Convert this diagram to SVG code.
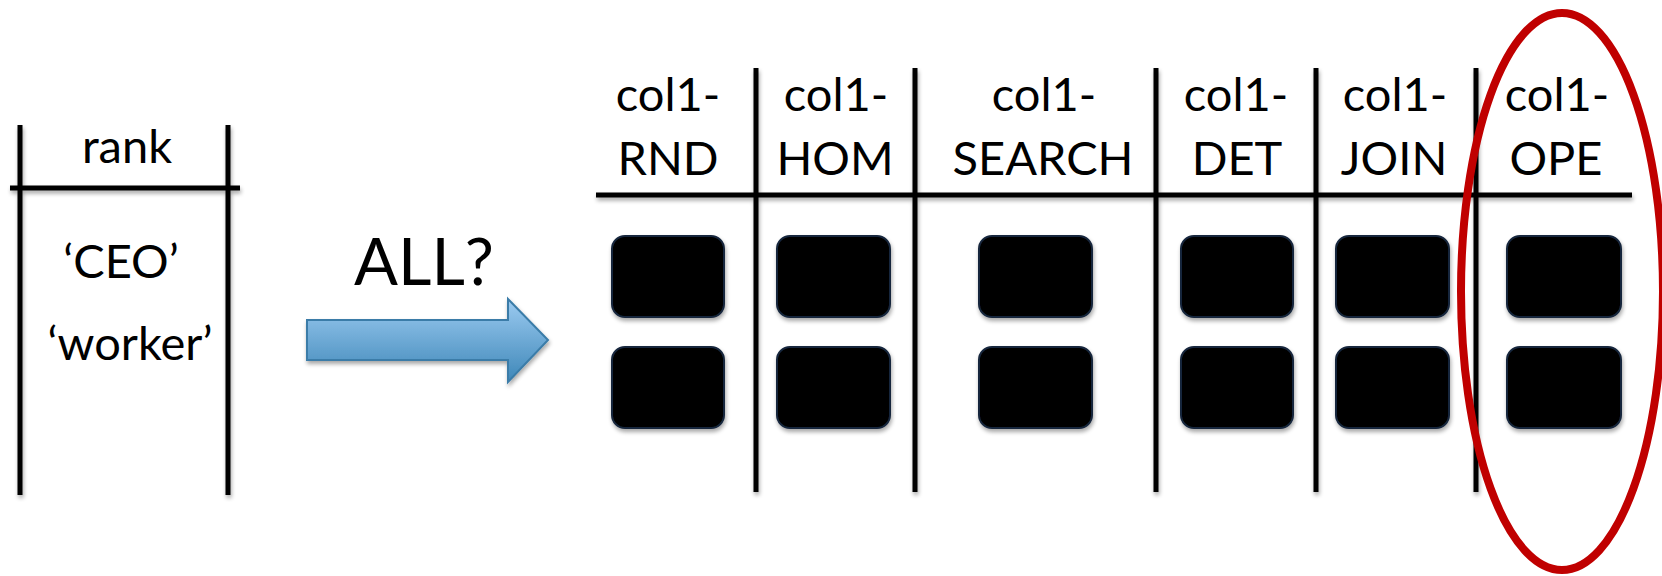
<svg xmlns="http://www.w3.org/2000/svg" width="1662" height="576" viewBox="0 0 1662 576">
  <style>
    .t { font-family: Lato, "Open Sans", "Liberation Sans", sans-serif; font-size: 47px; fill: #000; text-anchor: middle; }
    .big { font-size: 65px; }
    .ln { stroke: #000; stroke-width: 5; fill: none; }
    .box { fill: #000; stroke: #17273d; stroke-width: 2; }
  </style>
  <defs>
    <linearGradient id="arrowGrad" x1="0" y1="0" x2="0" y2="1">
      <stop offset="0" stop-color="#9ccbf1"/>
      <stop offset="1" stop-color="#3e87b8"/>
    </linearGradient>
    <filter id="sh" x="-10%" y="-10%" width="130%" height="130%">
      <feGaussianBlur in="SourceAlpha" stdDeviation="2"/>
      <feOffset dx="1" dy="3" result="b"/>
      <feComponentTransfer><feFuncA type="linear" slope="0.35"/></feComponentTransfer>
      <feMerge><feMergeNode/><feMergeNode in="SourceGraphic"/></feMerge>
    </filter>
  </defs>
  <rect width="1662" height="576" fill="#fff"/>

  <g id="source-table">
    <g filter="url(#sh)">
      <line class="ln" x1="20" y1="125" x2="20" y2="495"/>
      <line class="ln" x1="228" y1="125" x2="228" y2="495"/>
      <line class="ln" x1="10" y1="188" x2="240" y2="188"/>
    </g>
    <text class="t" x="127" y="163">rank</text>
    <text class="t" x="121" y="278">‘CEO’</text>
    <text class="t" x="130" y="360">‘worker’</text>
  </g>

  <g id="connectors">
    <g id="arrow" filter="url(#sh)">
      <path d="M307,320 L508,320 L508,299 L548,340 L508,382 L508,360 L307,360 Z" fill="url(#arrowGrad)" stroke="#3a7ca8" stroke-width="2" stroke-linejoin="miter"/>
    </g>
    <text id="arrow-label" class="t big" x="424" y="285">ALL?</text>
  </g>

  <g id="target-grid" filter="url(#sh)">
    <line class="ln" x1="596" y1="195" x2="1632" y2="195"/>
    <line class="ln" x1="756" y1="68" x2="756" y2="492"/>
    <line class="ln" x1="915" y1="68" x2="915" y2="492"/>
    <line class="ln" x1="1156" y1="68" x2="1156" y2="492"/>
    <line class="ln" x1="1316" y1="68" x2="1316" y2="492"/>
    <line class="ln" x1="1476" y1="68" x2="1476" y2="492"/>
  </g>

  <g id="col-rnd">
    <text class="t" x="668" y="111">col1-</text>
    <text class="t" x="668" y="175">RND</text>
    <rect class="box" x="612" y="236" width="112" height="81" rx="13" filter="url(#sh)"/>
    <rect class="box" x="612" y="347" width="112" height="81" rx="13" filter="url(#sh)"/>
  </g>
  <g id="col-hom">
    <text class="t" x="836" y="111">col1-</text>
    <text class="t" x="835" y="175">HOM</text>
    <rect class="box" x="777" y="236" width="113" height="81" rx="13" filter="url(#sh)"/>
    <rect class="box" x="777" y="347" width="113" height="81" rx="13" filter="url(#sh)"/>
  </g>
  <g id="col-search">
    <text class="t" x="1044" y="111">col1-</text>
    <text class="t" x="1043" y="175">SEARCH</text>
    <rect class="box" x="979" y="236" width="113" height="81" rx="13" filter="url(#sh)"/>
    <rect class="box" x="979" y="347" width="113" height="81" rx="13" filter="url(#sh)"/>
  </g>
  <g id="col-det">
    <text class="t" x="1236" y="111">col1-</text>
    <text class="t" x="1237" y="175">DET</text>
    <rect class="box" x="1181" y="236" width="112" height="81" rx="13" filter="url(#sh)"/>
    <rect class="box" x="1181" y="347" width="112" height="81" rx="13" filter="url(#sh)"/>
  </g>
  <g id="col-join">
    <text class="t" x="1395" y="111">col1-</text>
    <text class="t" x="1394" y="175">JOIN</text>
    <rect class="box" x="1336" y="236" width="113" height="81" rx="13" filter="url(#sh)"/>
    <rect class="box" x="1336" y="347" width="113" height="81" rx="13" filter="url(#sh)"/>
  </g>
  <g id="col-ope">
    <text class="t" x="1557" y="111">col1-</text>
    <text class="t" x="1556" y="175">OPE</text>
    <rect class="box" x="1507" y="236" width="114" height="81" rx="13" filter="url(#sh)"/>
    <rect class="box" x="1507" y="347" width="114" height="81" rx="13" filter="url(#sh)"/>
  </g>

  <g id="highlight">
    <ellipse cx="1562" cy="291.5" rx="101" ry="278.5" fill="none" stroke="#c00000" stroke-width="8"/>
  </g>
</svg>
